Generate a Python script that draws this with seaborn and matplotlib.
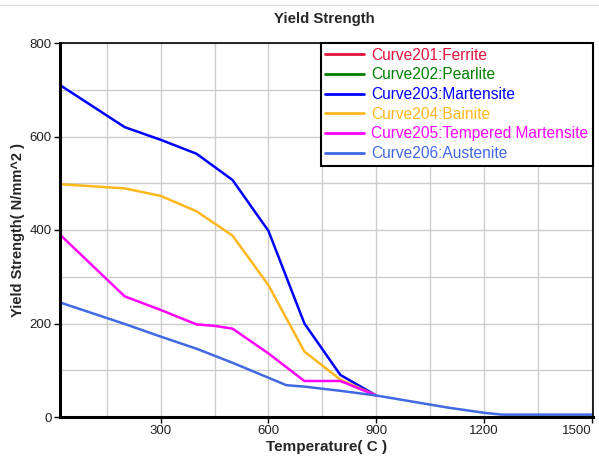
import numpy as np
import pandas as pd
import matplotlib
matplotlib.use("Agg")
import matplotlib.pyplot as plt
import seaborn as sns
from matplotlib.ticker import MultipleLocator, FixedLocator
from matplotlib.lines import Line2D

sns.set_theme(style="white")
plt.rcParams['font.family'] = ['Liberation Sans', 'DejaVu Sans']

# ---- data ----
series_names = ["Curve201:Ferrite", "Curve202:Pearlite", "Curve203:Martensite",
                "Curve204:Bainite", "Curve205:Tempered Martensite", "Curve206:Austenite"]
series_colors = ["#E0143C", "#008000", "#0000FF", "#FFB71E", "#FF00FF", "#4169E1"]

ferrite_t = []
ferrite_y = []
pearlite_t = []
pearlite_y = []
martensite_t = [20, 200, 300, 400, 500, 600, 700, 800, 900]
martensite_y = [710, 620, 593, 563, 507, 398, 200, 90, 46]
bainite_t = [20, 200, 300, 400, 500, 600, 700, 800, 900]
bainite_y = [498, 489, 473, 440, 388, 282, 140, 80, 46]
tempered_t = [20, 200, 300, 400, 450, 500, 600, 700, 800, 900]
tempered_y = [390, 258, 229, 198, 195, 189, 136, 77, 77, 46]
austenite_t = [20, 200, 300, 400, 500, 600, 650, 700, 800, 900, 1000, 1100, 1200, 1250, 1503]
austenite_y = [245, 199, 172, 146, 116, 84, 68, 65, 56, 46, 33, 20, 9, 5, 5]

x_ticks = [300, 600, 900, 1200, 1500]
y_ticks = [0, 200, 400, 600, 800]

all_t = [ferrite_t, pearlite_t, martensite_t, bainite_t, tempered_t, austenite_t]
all_y = [ferrite_y, pearlite_y, martensite_y, bainite_y, tempered_y, austenite_y]

rows = []
for name, ts, ys in zip(series_names, all_t, all_y):
    for t, y in zip(ts, ys):
        rows.append({"Temperature": t, "Yield": y, "Series": name})
df = pd.DataFrame(rows, columns=["Temperature", "Yield", "Series"])

fig = plt.figure(figsize=(5.99, 4.57), dpi=100)
ax = fig.add_axes([60/599, 1-417/457, (593-60)/599, (417-43)/457])

palette = dict(zip(series_names, series_colors))
present = [n for n in series_names if n in set(df["Series"])]
sns.lineplot(data=df, x="Temperature", y="Yield", hue="Series", hue_order=present,
             palette=palette, ax=ax, linewidth=1.8, sort=False, estimator=None,
             legend=False)

ax.set_xlim(20, 1503)
ax.set_ylim(0, 800)
ax.xaxis.set_major_locator(FixedLocator(x_ticks))
ax.yaxis.set_major_locator(FixedLocator(y_ticks))
ax.xaxis.set_minor_locator(MultipleLocator(150))
ax.yaxis.set_minor_locator(MultipleLocator(100))
ax.grid(True, which="both", color="#CCCCCC", linewidth=1.0)
ax.set_axisbelow(True)
ax.tick_params(axis="both", which="major", length=4, width=1, color="black",
               labelsize=9.5, pad=2, direction="out", bottom=True, left=True)
ax.tick_params(axis="both", which="minor", length=0)
ax.set_xticklabels([str(v) for v in x_ticks])
for t in ax.get_xticklabels() + ax.get_yticklabels():
    t.set_color("#222222")
ax.get_xticklabels()[-1].set_horizontalalignment("right")

for s in ["top", "right"]:
    ax.spines[s].set_color("black")
    ax.spines[s].set_linewidth(1.2)
for s in ["left", "bottom"]:
    ax.spines[s].set_color("black")
    ax.spines[s].set_linewidth(2.2)

ax.set_xlabel("Temperature( C )", fontsize=11, fontweight="bold", labelpad=2)
ax.set_ylabel("Yield Strength( N/mm^2 )", fontsize=10.5, fontweight="bold", labelpad=3)
fig.text(324/599, 1-19/457, "Yield Strength", ha="center", va="center",
         fontsize=10.8, fontweight="bold")

# faint line of the cropped page above the chart
fig.add_artist(Line2D([0, 1], [1-5/457, 1-5/457], transform=fig.transFigure,
                      color="#DDDDDD", lw=1))

handles = [Line2D([], [], color=c, lw=2) for c in series_colors]
leg = ax.legend(handles, series_names, loc="upper right", bbox_to_anchor=(1.0, 1.0),
                fontsize=11.2, frameon=True, fancybox=False, borderpad=0.3,
                labelspacing=0.3, handlelength=2.5, handletextpad=0.45,
                borderaxespad=0.0, labelcolor=series_colors)
leg.get_frame().set_edgecolor("black")
leg.get_frame().set_linewidth(1.5)
leg.get_frame().set_alpha(1.0)

fig.savefig("out.png", dpi=100)
